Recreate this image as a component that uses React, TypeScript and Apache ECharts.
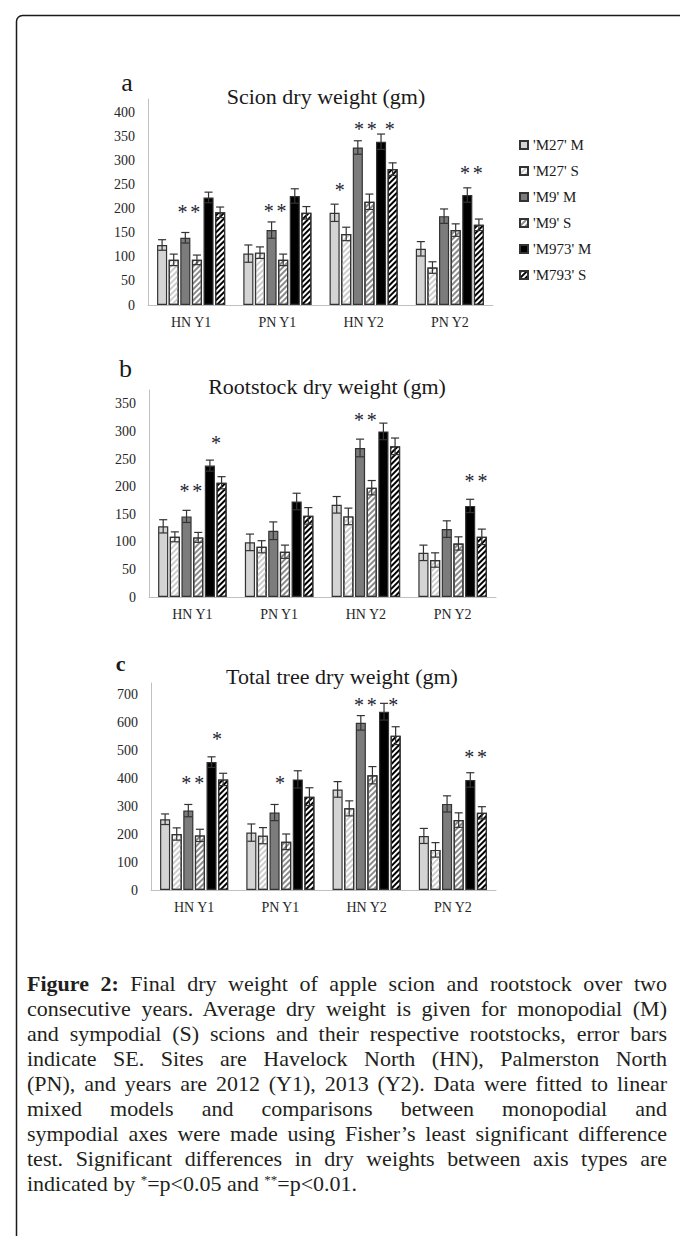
import React, { useEffect, useRef } from 'react';
import * as echarts from 'echarts';

// ---------------- DATA ----------------
const categories = ['HN Y1', 'PN Y1', 'HN Y2', 'PN Y2'];
const seriesNames = ["'M27' M", "'M27' S", "'M9' M", "'M9' S", "'M973' M", "'M793' S"];

// (a) Scion dry weight (gm): one row per series, values per category
const scionMeans = [
  [125, 107, 192, 117],
  [94, 109, 148, 78],
  [140, 156, 328, 185],
  [94, 94, 215, 156],
  [224, 227, 340, 229],
  [193, 192, 283, 167],
];
const scionSE = [
  [11, 18, 18, 15],
  [12, 12, 14, 12],
  [11, 17, 14, 15],
  [10, 12, 16, 13],
  [11, 15, 16, 15],
  [11, 13, 13, 12],
];

// (b) Rootstock dry weight (gm)
const rootMeans = [
  [128, 99, 167, 80],
  [109, 91, 146, 67],
  [146, 120, 270, 123],
  [108, 82, 198, 97],
  [238, 173, 300, 165],
  [207, 147, 273, 109],
];
const rootSE = [
  [12, 15, 15, 14],
  [9, 11, 15, 13],
  [11, 16, 16, 15],
  [9, 12, 13, 12],
  [10, 15, 15, 12],
  [11, 15, 15, 14],
];

// (c) Total tree dry weight (gm)
const totalMeans = [
  [254, 206, 361, 194],
  [201, 195, 293, 144],
  [285, 278, 600, 309],
  [196, 173, 412, 251],
  [459, 397, 640, 395],
  [397, 335, 554, 277],
];
const totalSE = [
  [19, 31, 28, 27],
  [22, 29, 27, 26],
  [22, 29, 26, 29],
  [22, 28, 31, 26],
  [19, 31, 30, 26],
  [22, 32, 32, 22],
];

// significance marks: category index, anchor in bar slots, value level, mark
const sigScion = [
  { cat: 0, pos: 2.3, y: 202, mark: '**' },
  { cat: 1, pos: 2.3, y: 203, mark: '**' },
  { cat: 2, pos: 0.45, y: 246, mark: '*' },
  { cat: 2, pos: 2.65, y: 373, mark: '**' },
  { cat: 2, pos: 4.75, y: 373, mark: '*' },
  { cat: 3, pos: 4.35, y: 283, mark: '**' },
];
const sigRoot = [
  { cat: 0, pos: 2.37, y: 198, mark: '**' },
  { cat: 0, pos: 4.53, y: 285, mark: '*' },
  { cat: 2, pos: 2.45, y: 327, mark: '**' },
  { cat: 3, pos: 4.5, y: 216, mark: '**' },
];
const sigTotal = [
  { cat: 0, pos: 2.38, y: 395, mark: '**' },
  { cat: 0, pos: 4.46, y: 556, mark: '*' },
  { cat: 1, pos: 2.47, y: 395, mark: '*' },
  { cat: 2, pos: 2.4, y: 676, mark: '**' },
  { cat: 2, pos: 4.8, y: 676, mark: '*' },
  { cat: 3, pos: 4.46, y: 491, mark: '**' },
];

const captionLines = [
  'consecutive years. Average dry weight is given for monopodial (M)',
  'and sympodial (S) scions and their respective rootstocks, error bars',
  'indicate SE. Sites are Havelock North (HN), Palmerston North',
  '(PN), and years are 2012 (Y1), 2013 (Y2). Data were fitted to linear',
  'mixed models and comparisons between monopodial and',
  'sympodial axes were made using Fisher\u2019s least significant difference',
  'test. Significant differences in dry weights between axis types are',
];

// ---------------- STYLE ----------------
const FONT = '"Liberation Serif", "Times New Roman", serif';
const CAT_GAP = 0.21;
const BAR_GAP = 0.15;
const N_BARS = 6;

const stripe = (color: string, dash: number[]) => ({
  symbol: 'rect',
  symbolSize: 1,
  dashArrayX: [1, 0],
  dashArrayY: dash,
  rotation: -Math.PI / 4,
  color,
});

const barStyles: any[] = [
  { color: '#d4d4d4' },
  { color: '#ffffff', decal: stripe('#cdcdcd', [1.5, 2]) },
  { color: '#7c7c7c' },
  { color: '#ffffff', decal: stripe('#8a8a8a', [1.5, 1.8]) },
  { color: '#000000' },
  { color: '#ffffff', decal: stripe('#000000', [2, 2]) },
];

const panels = [
  {
    letter: 'a', letterBold: false, letterSize: 26, letterX: 127, letterY: 82,
    title: 'Scion dry weight (gm)', titleX: 326, titleY: 96,
    grid: { left: 148, top: 99, width: 345, height: 206 },
    max: 429, interval: 50,
    means: scionMeans, se: scionSE, sig: sigScion,
  },
  {
    letter: 'b', letterBold: false, letterSize: 26, letterX: 125.5, letterY: 368,
    title: 'Rootstock dry weight (gm)', titleX: 327, titleY: 386,
    grid: { left: 149, top: 390, width: 347, height: 207 },
    max: 375, interval: 50,
    means: rootMeans, se: rootSE, sig: sigRoot,
  },
  {
    letter: 'c', letterBold: true, letterSize: 22, letterX: 120.5, letterY: 663,
    title: 'Total tree dry weight (gm)', titleX: 342, titleY: 676,
    grid: { left: 151, top: 683, width: 345, height: 207 },
    max: 743, interval: 100,
    means: totalMeans, se: totalSE, sig: sigTotal,
  },
];

function slot(bandWidth: number, pos: number) {
  const usable = bandWidth * (1 - CAT_GAP);
  const barW = usable / (N_BARS + (N_BARS - 1) * BAR_GAP);
  return { dx: -usable / 2 + barW / 2 + pos * barW * (1 + BAR_GAP), barW };
}

function errRender(params: any, api: any) {
  const cat = api.value(0);
  const idx = api.value(1);
  const mean = api.value(2);
  const se = api.value(3);
  const bw = api.size([1, 0])[0];
  const { dx, barW } = slot(bw, idx);
  const cx = api.coord([cat, mean])[0] + dx;
  const yTop = api.coord([cat, mean + se])[1];
  const yBot = api.coord([cat, mean - se])[1];
  const half = barW * 0.4;
  const style = { stroke: '#333333', lineWidth: 1.2 };
  return {
    type: 'group',
    children: [
      { type: 'line', shape: { x1: cx, y1: yTop, x2: cx, y2: yBot }, style },
      { type: 'line', shape: { x1: cx - half, y1: yTop, x2: cx + half, y2: yTop }, style },
      { type: 'line', shape: { x1: cx - half, y1: yBot, x2: cx + half, y2: yBot }, style },
    ],
  };
}

function makeSigRender(sig: { mark: string }[]) {
  return (params: any, api: any) => {
    const cat = api.value(0);
    const pos = api.value(1);
    const val = api.value(2);
    const bw = api.size([1, 0])[0];
    const { dx } = slot(bw, pos);
    const p = api.coord([cat, val]);
    const cx = p[0] + dx;
    const cy = p[1] + 3.5;
    const mark = sig[params.dataIndex].mark;
    const xs = mark === '**' ? [cx - 6.4, cx + 6.4] : [cx];
    return {
      type: 'group',
      children: xs.map((x) => ({
        type: 'text',
        x,
        y: cy,
        style: {
          text: '*',
          font: `20px ${FONT}`,
          fill: '#1e2433',
          align: 'center',
          verticalAlign: 'middle',
        },
      })),
    };
  };
}

function buildOption() {
  const series: any[] = [];
  const graphic: any[] = [
    {
      type: 'rect',
      shape: { x: 16.5, y: 15.5, width: 900, height: 1500, r: 6 },
      style: { fill: 'none', stroke: '#1a1a1a', lineWidth: 1.5 },
      silent: true,
    },
  ];
  panels.forEach((p, pi) => {
    seriesNames.forEach((name, si) => {
      series.push({
        type: 'bar',
        name,
        xAxisIndex: pi,
        yAxisIndex: pi,
        data: p.means[si],
        barCategoryGap: '21%',
        barGap: '15%',
        itemStyle: { ...barStyles[si], borderColor: '#333333', borderWidth: 1.2 },
        emphasis: { disabled: true },
        silent: true,
      });
    });
    const errData: number[][] = [];
    for (let s = 0; s < N_BARS; s++) {
      for (let c = 0; c < categories.length; c++) {
        errData.push([c, s, p.means[s][c], p.se[s][c]]);
      }
    }
    series.push({
      type: 'custom',
      xAxisIndex: pi,
      yAxisIndex: pi,
      data: errData,
      encode: { x: 0, y: 2 },
      renderItem: errRender,
      z: 3,
      silent: true,
    });
    series.push({
      type: 'custom',
      xAxisIndex: pi,
      yAxisIndex: pi,
      data: p.sig.map((s) => [s.cat, s.pos, s.y]),
      encode: { x: 0, y: 2 },
      renderItem: makeSigRender(p.sig),
      z: 4,
      silent: true,
    });
    graphic.push({
      type: 'text',
      x: p.letterX,
      y: p.letterY,
      style: {
        text: p.letter,
        font: `${p.letterBold ? 'bold ' : ''}${p.letterSize}px ${FONT}`,
        fill: '#1a1a1a',
        align: 'center',
        verticalAlign: 'middle',
      },
    });
    graphic.push({
      type: 'text',
      x: p.titleX,
      y: p.titleY,
      style: {
        text: p.title,
        font: `22px ${FONT}`,
        fill: '#1a1a1a',
        align: 'center',
        verticalAlign: 'middle',
      },
    });
  });

  return {
    animation: false,
    backgroundColor: '#ffffff',
    grid: panels.map((p) => ({ ...p.grid })),
    xAxis: panels.map((p, i) => ({
      type: 'category',
      gridIndex: i,
      data: categories,
      axisTick: { show: false },
      axisLine: { show: true, lineStyle: { color: '#c0c0c0', width: 1 } },
      axisLabel: { fontFamily: FONT, fontSize: 14, color: '#262626', margin: 10 },
      splitLine: { show: false },
    })),
    yAxis: panels.map((p, i) => ({
      type: 'value',
      gridIndex: i,
      min: 0,
      max: p.max,
      interval: p.interval,
      axisTick: { show: false },
      splitLine: { show: false },
      axisLine: { show: true, lineStyle: { color: '#c0c0c0', width: 1 } },
      axisLabel: {
        showMaxLabel: false,
        fontFamily: FONT,
        fontSize: 14,
        color: '#262626',
        margin: 13,
      },
    })),
    legend: {
      data: seriesNames,
      orient: 'vertical',
      left: 519,
      top: 137.5,
      padding: 0,
      itemWidth: 8,
      itemHeight: 8,
      itemGap: 11,
      icon: 'rect',
      selectedMode: false,
      textStyle: { fontFamily: FONT, fontSize: 15, color: '#1a1a1a', lineHeight: 15 },
    },
    graphic,
    series,
  };
}

export default function App() {
  const ref = useRef<HTMLDivElement>(null);
  useEffect(() => {
    if (!ref.current) return;
    const chart = echarts.init(ref.current, null, { renderer: 'svg' });
    chart.setOption(buildOption() as any);
    return () => chart.dispose();
  }, []);

  const lineStyle: React.CSSProperties = { textAlign: 'justify', textAlignLast: 'justify' as any };
  return (
    <div style={{ position: 'absolute', left: 0, top: 0, width: 680, height: 1236, overflow: 'hidden', background: '#fff' }}>
      <div ref={ref} style={{ position: 'absolute', left: 0, top: 0, width: 680, height: 1236 }} />
      <div
        style={{
          position: 'absolute',
          left: 27,
          top: 971,
          width: 640,
          fontFamily: FONT,
          fontSize: 22,
          lineHeight: '25px',
          color: '#231f20',
        }}
      >
        <div style={lineStyle}>
          <b>Figure 2:</b> Final dry weight of apple scion and rootstock over two
        </div>
        {captionLines.map((l, i) => (
          <div key={i} style={lineStyle}>{l}</div>
        ))}
        <div style={{ textAlign: 'left' }}>
          indicated by <span style={{ position: 'relative', top: -7, fontSize: 13 }}>*</span>=p&lt;0.05 and{' '}
          <span style={{ position: 'relative', top: -7, fontSize: 13 }}>**</span>=p&lt;0.01.
        </div>
      </div>
    </div>
  );
}
